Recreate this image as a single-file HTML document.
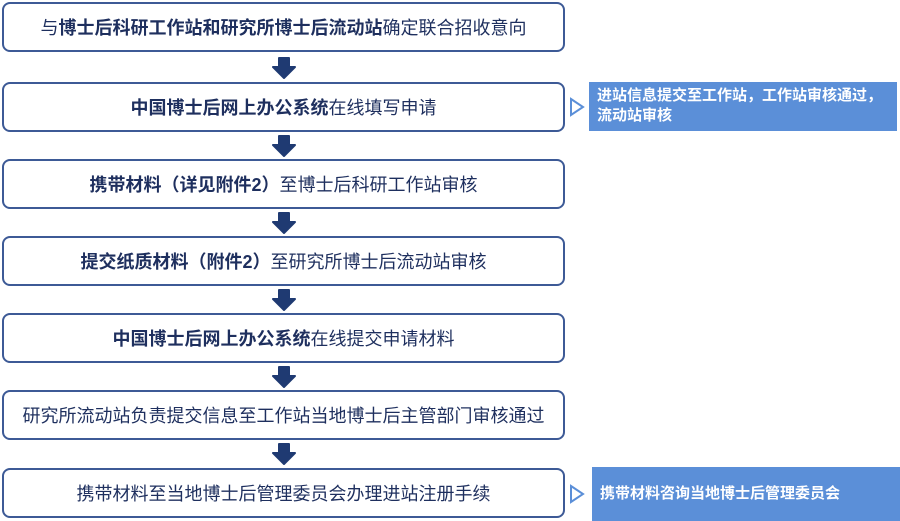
<!DOCTYPE html>
<html><head><meta charset="utf-8"><style>
body{margin:0;width:900px;height:521px;background:#fff;position:relative;overflow:hidden;font-family:"Liberation Sans","Noto Sans CJK SC",sans-serif;}
.b{position:absolute;left:2px;width:559px;height:46px;border:2px solid #3d5a96;border-radius:8px;display:flex;align-items:center;justify-content:center;font-size:18px;color:#1e2f5e;white-space:nowrap;}
.b b{font-weight:bold;}
.a{position:absolute;left:272px;width:24px;height:22px;}
.s{position:absolute;background:#5b8fd8;color:#fff;font-weight:bold;font-size:15px;line-height:20px;padding:4px 8px;box-sizing:border-box;white-space:nowrap;}
.t{position:absolute;left:569px;}
</style></head><body>
<div class="b" style="top:2px"><span>与<b>博士后科研工作站和研究所博士后流动站</b>确定联合招收意向</span></div>
<div class="b" style="top:82px"><span><b>中国博士后网上办公系统</b>在线填写申请</span></div>
<div class="b" style="top:159px"><span><b>携带材料（详见附件2）</b>至博士后科研工作站审核</span></div>
<div class="b" style="top:236px"><span><b>提交纸质材料（附件2）</b>至研究所博士后流动站审核</span></div>
<div class="b" style="top:313px"><span><b>中国博士后网上办公系统</b>在线提交申请材料</span></div>
<div class="b" style="top:390px"><span>研究所流动站负责提交信息至工作站当地博士后主管部门审核通过</span></div>
<div class="b" style="top:468px"><span>携带材料至当地博士后管理委员会办理进站注册手续</span></div>

<svg class="a" style="top:57px" viewBox="0 0 24 22"><path d="M7 1h10v9h6L12 21 1 10h6z" fill="#1f3a72" stroke="#1f3a72" stroke-width="2" stroke-linejoin="round"/></svg>
<svg class="a" style="top:135px" viewBox="0 0 24 22"><path d="M7 1h10v9h6L12 21 1 10h6z" fill="#1f3a72" stroke="#1f3a72" stroke-width="2" stroke-linejoin="round"/></svg>
<svg class="a" style="top:212px" viewBox="0 0 24 22"><path d="M7 1h10v9h6L12 21 1 10h6z" fill="#1f3a72" stroke="#1f3a72" stroke-width="2" stroke-linejoin="round"/></svg>
<svg class="a" style="top:289px" viewBox="0 0 24 22"><path d="M7 1h10v9h6L12 21 1 10h6z" fill="#1f3a72" stroke="#1f3a72" stroke-width="2" stroke-linejoin="round"/></svg>
<svg class="a" style="top:366px" viewBox="0 0 24 22"><path d="M7 1h10v9h6L12 21 1 10h6z" fill="#1f3a72" stroke="#1f3a72" stroke-width="2" stroke-linejoin="round"/></svg>
<svg class="a" style="top:443px" viewBox="0 0 24 22"><path d="M7 1h10v9h6L12 21 1 10h6z" fill="#1f3a72" stroke="#1f3a72" stroke-width="2" stroke-linejoin="round"/></svg>

<svg class="t" style="top:97px" width="16" height="20"><path d="M2 2L14 10 2 18z" fill="none" stroke="#5b8fd8" stroke-width="2"/></svg>
<svg class="t" style="top:484px" width="16" height="20"><path d="M2 2L14 10 2 18z" fill="none" stroke="#5b8fd8" stroke-width="2"/></svg>

<div class="s" style="left:589px;top:82px;width:308px;height:49px;">进站信息提交至工作站，工作站审核通过，<br>流动站审核</div>
<div class="s" style="left:592px;top:467px;width:308px;height:54px;display:flex;align-items:center;padding:0 8px;">携带材料咨询当地博士后管理委员会</div>
</body></html>
